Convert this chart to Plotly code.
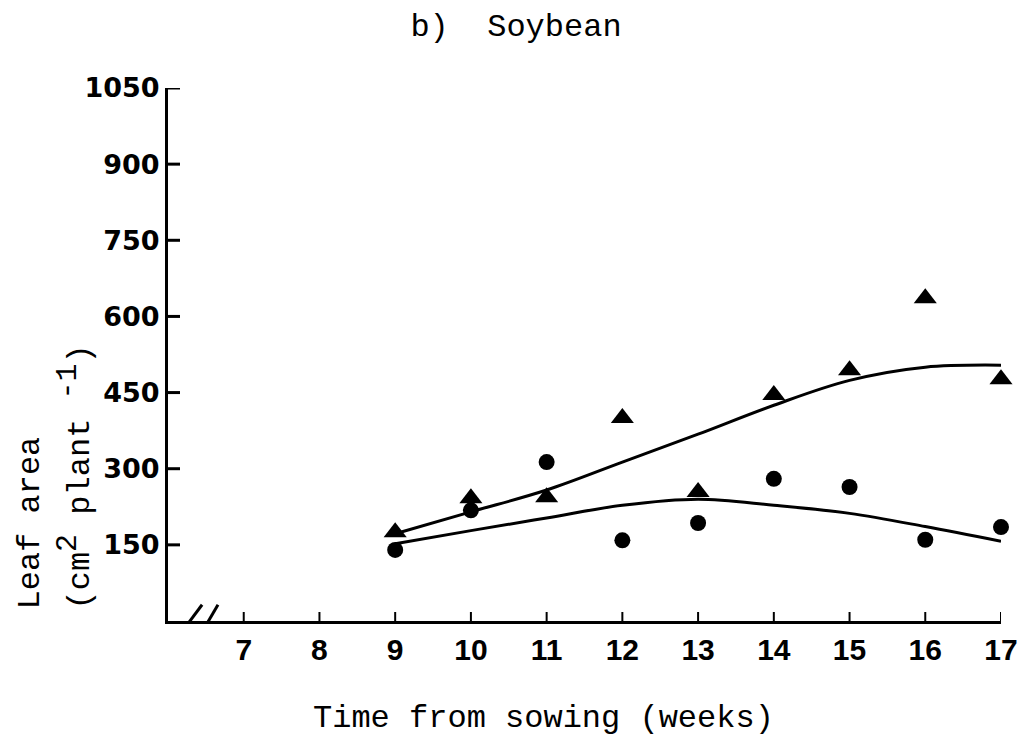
import plotly.graph_objects as go

weeks = [9, 10, 11, 12, 13, 14, 15, 16, 17]
tri_vals = [175, 242, 244, 400, 254, 445, 494, 636, 476]
circ_vals = [140, 218, 313, 159, 193, 280, 264, 160, 185]
fit_tri = [172, 215, 258, 313, 368, 425, 474, 500, 504]
fit_circ = [152, 178, 203, 228, 240, 228, 212, 186, 157]

x_ticks = [7, 8, 9, 10, 11, 12, 13, 14, 15, 16, 17]
y_ticks = [150, 300, 450, 600, 750, 900, 1050]

# page body has an 8px margin; work in screen pixels and shift
OFF = 8
W, H = 1030 - OFF, 737 - OFF
L = 168 - OFF
T = 88 - OFF
R = W - (1001 - OFF)
B = H - (621 - OFF)
pw, ph = W - L - R, H - T - B

def px(xs):
    return (xs - OFF - L) / pw

def py(ys):
    return (H - B - (ys - OFF)) / ph

mono = "Liberation Mono"

fig = go.Figure()
fig.add_trace(go.Scatter(x=weeks, y=fit_tri, mode="lines", line=dict(color="black", width=3, shape="spline"),
                         cliponaxis=False, showlegend=False))
fig.add_trace(go.Scatter(x=weeks, y=fit_circ, mode="lines", line=dict(color="black", width=3, shape="spline"),
                         cliponaxis=False, showlegend=False))
fig.add_trace(go.Scatter(x=weeks, y=tri_vals, mode="markers",
                         marker=dict(symbol="triangle-up", size=20, color="black"),
                         cliponaxis=False, showlegend=False))
fig.add_trace(go.Scatter(x=weeks, y=circ_vals, mode="markers",
                         marker=dict(symbol="circle", size=16, color="black"),
                         cliponaxis=False, showlegend=False))

# axis break marks
for x0, y0, x1, y1 in [(6.14, -30, 6.45, 32), (6.37, -42, 6.66, 32)]:
    fig.add_shape(type="line", xref="x", yref="y", x0=x0, y0=y0, x1=x1, y1=y1,
                  line=dict(color="black", width=3))

# inward tick marks, placed from the tick arrays
for yv in y_ticks:
    fig.add_shape(type="line", xref="paper", yref="y", xsizemode="pixel", xanchor=0,
                  x0=0, x1=12, y0=yv, y1=yv, line=dict(color="black", width=3), layer="above")
for xv in x_ticks:
    fig.add_shape(type="line", xref="x", yref="paper", ysizemode="pixel", yanchor=0,
                  y0=0, y1=9, x0=xv, x1=xv, line=dict(color="black", width=2), layer="above")

fig.update_layout(
    width=W, height=H,
    margin=dict(l=L, r=R, t=T, b=B),
    paper_bgcolor="white", plot_bgcolor="white",
    title=dict(text="b)  Soybean", font=dict(family=mono, size=32, color="black"),
               x=(516 - OFF) / W, xanchor="center", xref="container",
               y=1 - (25 - OFF) / H, yanchor="middle", yref="container"),
    xaxis=dict(range=[6, 17], tickmode="array", tickvals=x_ticks, ticks="", 
               showline=True, linewidth=3, linecolor="black", showgrid=False, zeroline=False,
               tickfont=dict(family="Liberation Sans", size=30, color="black", weight="bold")),
    yaxis=dict(range=[0, 1050], tickmode="array", tickvals=y_ticks, ticks="",
               showline=True, linewidth=3, linecolor="black", showgrid=False, zeroline=False,
               tickfont=dict(family="DejaVu Sans", size=27, color="black", weight="bold")),
    annotations=[
        dict(text="Time from sowing (weeks)", xref="paper", yref="paper", x=px(543), y=py(718),
             xanchor="center", yanchor="middle", showarrow=False,
             font=dict(family=mono, size=32, color="black")),
        dict(text="Leaf area", xref="paper", yref="paper", x=px(30), y=py(612),
             xanchor="center", yanchor="bottom", textangle=-90, showarrow=False,
             font=dict(family=mono, size=32, color="black")),
        dict(text="(cm<sup><span style='font-size:30px'>2</span></sup> plant <sup><span style='font-size:30px'>-1</span></sup>)",
             xref="paper", yref="paper", x=px(74), y=py(612),
             xanchor="center", yanchor="bottom", textangle=-90, showarrow=False,
             font=dict(family=mono, size=32, color="black")),
    ],
)

fig.write_html("out.html")
